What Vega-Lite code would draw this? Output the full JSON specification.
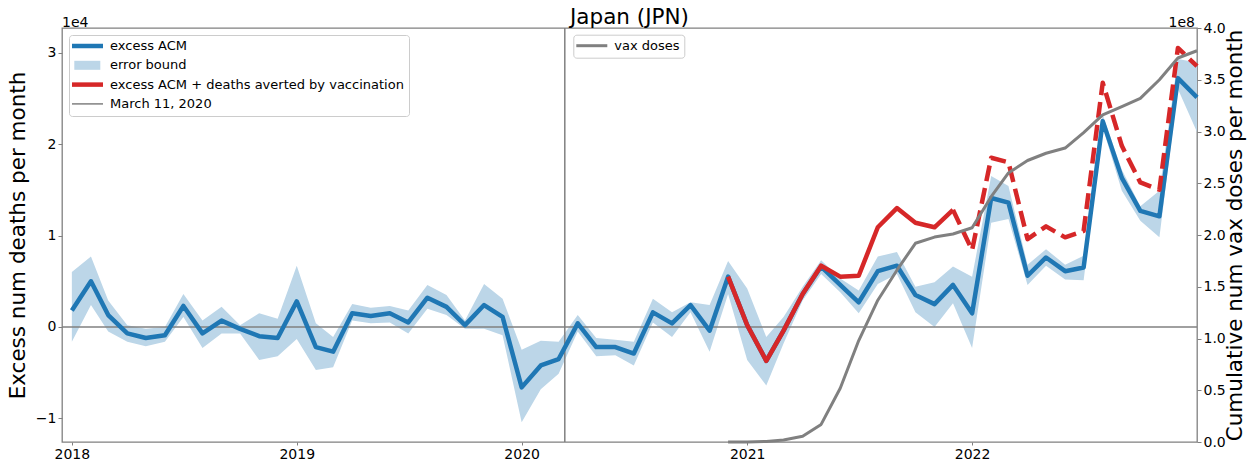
{
  "$schema": "https://vega.github.io/schema/vega-lite/v6.json",
  "width": 1135,
  "height": 414,
  "autosize": {"type": "none"},
  "padding": {"left": 62, "top": 28, "right": 62, "bottom": 24},
  "title": {"text": "Japan (JPN)", "fontSize": 21.5, "fontWeight": "normal", "font": "DejaVu Sans", "color": "#000000", "offset": -13},
  "config": {
    "font": "DejaVu Sans",
    "view": {"stroke": "#808080", "strokeWidth": 1.3},
    "axis": {"grid": false, "domain": false, "tickColor": "#808080", "tickWidth": 1, "labelFontSize": 14, "labelColor": "#000000", "titleFontSize": 21.5, "titleFontWeight": "normal", "titleColor": "#000000", "labelFont": "DejaVu Sans", "titleFont": "DejaVu Sans"},
    "legend": {"padding": 4.5, "rowPadding": 5.3, "labelFontSize": 13, "labelFont": "DejaVu Sans", "labelColor": "#000000", "labelOffset": 23.5, "labelLimit": 0, "symbolSize": 100, "fillColor": "white", "strokeColor": "#cccccc", "strokeWidth": 1, "cornerRadius": 3}
  },
  "data": {"values": [
    {"date": "2018-01-01", "acm": 1800, "lo": -1600, "hi": 6000},
    {"date": "2018-02-01", "acm": 5000, "lo": 2400, "hi": 7700},
    {"date": "2018-03-01", "acm": 1300, "lo": -500, "hi": 2900},
    {"date": "2018-04-01", "acm": -700, "lo": -1600, "hi": 200},
    {"date": "2018-05-01", "acm": -1200, "lo": -2100, "hi": -200},
    {"date": "2018-06-01", "acm": -900, "lo": -1600, "hi": 0},
    {"date": "2018-07-01", "acm": 2300, "lo": 1100, "hi": 3600},
    {"date": "2018-08-01", "acm": -700, "lo": -2300, "hi": 700},
    {"date": "2018-09-01", "acm": 700, "lo": -700, "hi": 2200},
    {"date": "2018-10-01", "acm": -200, "lo": -700, "hi": 200},
    {"date": "2018-11-01", "acm": -1000, "lo": -3600, "hi": 1500},
    {"date": "2018-12-01", "acm": -1200, "lo": -3200, "hi": 900},
    {"date": "2019-01-01", "acm": 2800, "lo": -1300, "hi": 6700},
    {"date": "2019-02-01", "acm": -2200, "lo": -4700, "hi": 400},
    {"date": "2019-03-01", "acm": -2700, "lo": -4400, "hi": -1100},
    {"date": "2019-04-01", "acm": 1500, "lo": 700, "hi": 2500},
    {"date": "2019-05-01", "acm": 1200, "lo": 400, "hi": 2100},
    {"date": "2019-06-01", "acm": 1500, "lo": 500, "hi": 2300},
    {"date": "2019-07-01", "acm": 500, "lo": -700, "hi": 1800},
    {"date": "2019-08-01", "acm": 3200, "lo": 2000, "hi": 4600},
    {"date": "2019-09-01", "acm": 2200, "lo": 1300, "hi": 3500},
    {"date": "2019-10-01", "acm": 200, "lo": -200, "hi": 700},
    {"date": "2019-11-01", "acm": 2400, "lo": -200, "hi": 4700},
    {"date": "2019-12-01", "acm": 1100, "lo": -900, "hi": 3100},
    {"date": "2020-01-01", "acm": -6600, "lo": -10400, "hi": -2500},
    {"date": "2020-02-01", "acm": -4200, "lo": -6800, "hi": -1500},
    {"date": "2020-03-01", "acm": -3500, "lo": -5100, "hi": -1600},
    {"date": "2020-04-01", "acm": 400, "lo": -500, "hi": 1300},
    {"date": "2020-05-01", "acm": -2200, "lo": -3200, "hi": -1200},
    {"date": "2020-06-01", "acm": -2200, "lo": -3100, "hi": -1400},
    {"date": "2020-07-01", "acm": -2900, "lo": -4200, "hi": -1600},
    {"date": "2020-08-01", "acm": 1600, "lo": 500, "hi": 3100},
    {"date": "2020-09-01", "acm": 400, "lo": -1100, "hi": 1600},
    {"date": "2020-10-01", "acm": 2400, "lo": 1600, "hi": 2700},
    {"date": "2020-11-01", "acm": -400, "lo": -2700, "hi": 2400},
    {"date": "2020-12-01", "acm": 5500, "lo": 3600, "hi": 7200, "red": 5500, "vax": 0},
    {"date": "2021-01-01", "acm": 200, "lo": -3600, "hi": 4200, "red": 200, "vax": 0},
    {"date": "2021-02-01", "acm": -3700, "lo": -6400, "hi": -1100, "red": -3700, "vax": 500000},
    {"date": "2021-03-01", "acm": -400, "lo": -1800, "hi": 1100, "red": -400, "vax": 2000000},
    {"date": "2021-04-01", "acm": 3600, "lo": 2900, "hi": 4400, "red": 3600, "vax": 5500000},
    {"date": "2021-05-01", "acm": 6600, "lo": 5800, "hi": 7300, "red": 6700, "vax": 17000000},
    {"date": "2021-06-01", "acm": 4600, "lo": 3800, "hi": 5300, "red": 5500, "vax": 52000000},
    {"date": "2021-07-01", "acm": 2700, "lo": 1500, "hi": 4000, "red": 5600, "vax": 98000000},
    {"date": "2021-08-01", "acm": 6100, "lo": 4700, "hi": 7700, "red": 10900, "vax": 137000000},
    {"date": "2021-09-01", "acm": 6700, "lo": 5800, "hi": 8200, "red": 13000, "vax": 166000000},
    {"date": "2021-10-01", "acm": 3500, "lo": 1600, "hi": 4400, "red": 11400, "vax": 192000000},
    {"date": "2021-11-01", "acm": 2500, "lo": 0, "hi": 4900, "red": 10900, "vax": 198000000},
    {"date": "2021-12-01", "acm": 4600, "lo": 2600, "hi": 6600, "red": 12800, "redd": 12800, "vax": 201000000},
    {"date": "2022-01-01", "acm": 1500, "lo": -2300, "hi": 5500, "redd": 8400, "vax": 207000000},
    {"date": "2022-02-01", "acm": 14100, "lo": 11400, "hi": 16500, "redd": 18500, "vax": 237000000},
    {"date": "2022-03-01", "acm": 13600, "lo": 11800, "hi": 15400, "redd": 18000, "vax": 260000000},
    {"date": "2022-04-01", "acm": 5600, "lo": 4600, "hi": 6800, "redd": 9600, "vax": 272000000},
    {"date": "2022-05-01", "acm": 7600, "lo": 6700, "hi": 8500, "redd": 11000, "vax": 279000000},
    {"date": "2022-06-01", "acm": 6100, "lo": 5200, "hi": 6800, "redd": 9800, "vax": 284000000},
    {"date": "2022-07-01", "acm": 6500, "lo": 5100, "hi": 7800, "redd": 10500, "vax": 299000000},
    {"date": "2022-08-01", "acm": 22500, "lo": 21800, "hi": 23200, "redd": 26700, "vax": 316000000},
    {"date": "2022-09-01", "acm": 16300, "lo": 14900, "hi": 17200, "redd": 19800, "vax": 324000000},
    {"date": "2022-10-01", "acm": 12700, "lo": 11600, "hi": 13200, "redd": 15800, "vax": 332000000},
    {"date": "2022-11-01", "acm": 12100, "lo": 9800, "hi": 14900, "redd": 15000, "vax": 350000000},
    {"date": "2022-12-01", "acm": 27200, "lo": 26000, "hi": 29300, "redd": 30500, "vax": 371000000},
    {"date": "2023-01-01", "acm": 25100, "lo": 21300, "hi": 28900, "redd": 28500, "vax": 378000000}
  ]},
  "layer": [
    {
      "layer": [
        {
          "mark": {"type": "area", "opacity": 1},
          "encoding": {
            "x": {"field": "date", "type": "temporal", "title": null,
              "scale": {"domain": [{"year": 2017, "month": 12, "date": 16}, {"year": 2023, "month": 1, "date": 1}], "nice": false},
              "axis": {"values": [{"year": 2018, "month": 1, "date": 1}, {"year": 2019, "month": 1, "date": 1}, {"year": 2020, "month": 1, "date": 1}, {"year": 2021, "month": 1, "date": 1}, {"year": 2022, "month": 1, "date": 1}], "format": "%Y", "tickSize": 3, "labelPadding": 2, "labelFlush": false}},
            "y": {"field": "lo", "type": "quantitative", "title": "Excess num deaths per month",
              "scale": {"domain": [-12570, 32680], "nice": false, "zero": false},
              "axis": {"orient": "left", "values": [-10000, 0, 10000, 20000, 30000], "labelExpr": "format(datum.value / 10000, 'd')", "tickSize": 4, "labelPadding": 2, "titlePadding": 6}},
            "y2": {"field": "hi"},
            "color": {"datum": "error bound"}
          }
        },
        {
          "data": {"values": [{"z": 0}]},
          "mark": {"type": "rule", "color": "#808080", "strokeWidth": 1.5},
          "encoding": {
            "y": {"field": "z", "type": "quantitative", "title": "Excess num deaths per month"}
          }
        },
        {
          "data": {"values": [{"d": "2020-03-11"}]},
          "mark": {"type": "rule", "strokeWidth": 1.5},
          "encoding": {
            "x": {"field": "d", "type": "temporal", "title": null},
            "color": {"datum": "March 11, 2020"}
          }
        },
        {
          "mark": {"type": "line", "strokeWidth": 4.5, "strokeJoin": "round", "strokeCap": "butt"},
          "encoding": {
            "x": {"field": "date", "type": "temporal", "title": null},
            "y": {"field": "acm", "type": "quantitative", "title": "Excess num deaths per month"},
            "color": {"datum": "excess ACM",
              "scale": {"domain": ["excess ACM", "error bound", "excess ACM + deaths averted by vaccination", "March 11, 2020"], "range": ["#1f77b4", "#bcd6e8", "#d62728", "#808080"]},
              "legend": {"orient": "top-left", "offset": 6.5, "title": null,
                "encode": {"symbols": {"update": {
                  "shape": {"signal": "datum.value === 'error bound' ? 'M-1.14,-0.9H4.06V0.9H-1.14Z' : datum.value === 'March 11, 2020' ? 'M-1.6,-0.15H4.6V0.15H-1.6Z' : 'M-1.6,-0.45H4.6V0.45H-1.6Z'"},
                  "fill": {"signal": "datum.value === 'error bound' ? '#bcd6e8' : datum.value === 'March 11, 2020' ? '#808080' : datum.value === 'excess ACM' ? '#1f77b4' : '#d62728'"},
                  "stroke": {"value": "transparent"},
                  "strokeWidth": {"value": 0},
                  "size": {"value": 100},
                  "opacity": {"value": 1},
                  "fillOpacity": {"value": 1}
                }}}}}
          }
        },
        {
          "mark": {"type": "line", "strokeWidth": 4.5, "strokeJoin": "round", "strokeCap": "butt"},
          "encoding": {
            "x": {"field": "date", "type": "temporal", "title": null},
            "y": {"field": "red", "type": "quantitative", "title": "Excess num deaths per month"},
            "color": {"datum": "excess ACM + deaths averted by vaccination"}
          }
        },
        {
          "mark": {"type": "line", "strokeWidth": 4.5, "strokeJoin": "round", "strokeCap": "butt", "strokeDash": [16, 7]},
          "encoding": {
            "x": {"field": "date", "type": "temporal", "title": null},
            "y": {"field": "redd", "type": "quantitative", "title": "Excess num deaths per month"},
            "color": {"datum": "excess ACM + deaths averted by vaccination"}
          }
        },
        {
          "data": {"values": [{"t": "1e4", "d": "2017-12-16", "v": 32680}]},
          "mark": {"type": "text", "align": "left", "baseline": "alphabetic", "dy": -1.5, "fontSize": 14, "color": "#000000"},
          "encoding": {
            "x": {"field": "d", "type": "temporal", "title": null},
            "y": {"field": "v", "type": "quantitative", "title": "Excess num deaths per month"},
            "text": {"field": "t"}
          }
        }
      ]
    },
    {
      "layer": [
        {
          "mark": {"type": "line", "strokeWidth": 3, "strokeJoin": "round"},
          "encoding": {
            "x": {"field": "date", "type": "temporal", "title": null},
            "y": {"field": "vax", "type": "quantitative", "title": "Cumulative num vax doses per month",
              "scale": {"domain": [0, 400000000], "nice": false, "zero": false},
              "axis": {"orient": "right", "values": [0, 50000000, 100000000, 150000000, 200000000, 250000000, 300000000, 350000000, 400000000], "labelExpr": "format(datum.value / 100000000, '.1f')", "tickSize": 4, "labelPadding": 2, "titlePadding": -1, "titleAngle": 270, "titleBaseline": "top"}},
            "color": {"datum": "vax doses",
              "scale": {"domain": ["vax doses"], "range": ["#808080"]},
              "legend": {"orient": "none", "legendX": 511.3, "legendY": 6.7, "title": null,
                "encode": {"symbols": {"update": {
                  "shape": {"value": "M-1.6,-0.3H4.6V0.3H-1.6Z"},
                  "fill": {"value": "#808080"},
                  "stroke": {"value": "transparent"},
                  "strokeWidth": {"value": 0},
                  "size": {"value": 100},
                  "opacity": {"value": 1},
                  "fillOpacity": {"value": 1}
                }}}}}
          }
        },
        {
          "data": {"values": [{"t": "1e8", "d": "2023-01-01", "v": 400000000}]},
          "mark": {"type": "text", "align": "right", "baseline": "alphabetic", "dx": -2, "dy": -1.5, "fontSize": 14, "color": "#000000"},
          "encoding": {
            "x": {"field": "d", "type": "temporal", "title": null},
            "y": {"field": "v", "type": "quantitative", "title": "Cumulative num vax doses per month"},
            "text": {"field": "t"}
          }
        }
      ]
    }
  ],
  "resolve": {"scale": {"y": "independent", "color": "independent"}}
}
